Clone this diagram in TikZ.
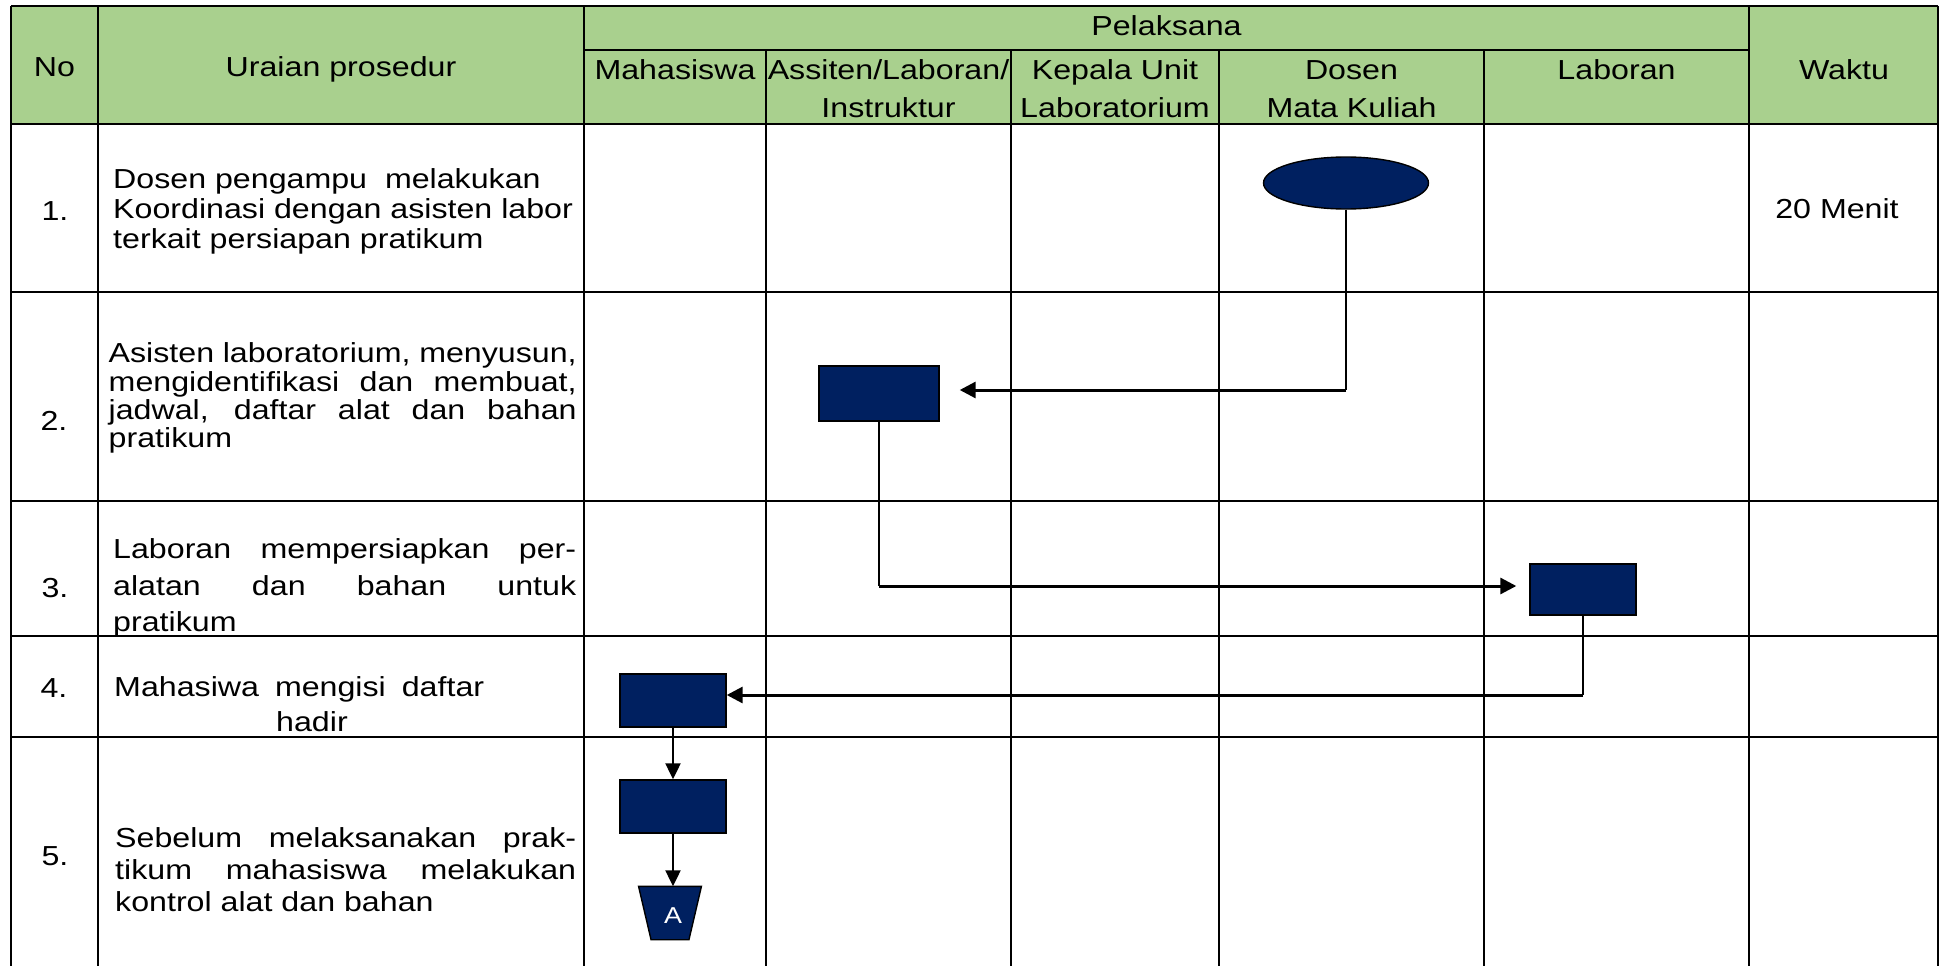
\documentclass[tikz,border=0pt]{standalone}
\usepackage{fontspec}
\setmainfont{Liberation Sans}[FakeStretch=1.17]
\usetikzlibrary{arrows.meta,shapes.geometric,calc}
\definecolor{hdr}{RGB}{169,208,142}
\definecolor{navy}{RGB}{0,32,96}
\begin{document}
\begin{tikzpicture}[x=1pt,y=-1pt,
  grid/.style={line width=2.2pt},
  txt/.style={inner sep=0pt, font=\fontsize{27.5}{30}\selectfont},
  box/.style={draw=black, line width=1.4pt, fill=navy, minimum width=106pt, minimum height=53pt, inner sep=0pt},
  vline/.style={line width=1.4pt},
  harrow/.style={line width=3pt, -{Triangle[length=16pt,width=16pt]}},
  varrow/.style={line width=2.2pt, -{Triangle[length=16pt,width=15pt]}},
]
\useasboundingbox (0,0) rectangle (1941,966);
% header background
\fill[hdr] (11,6) rectangle (1938,124);
% grid
\draw[grid] (11,6) -- (1938,6);
\draw[grid] (584,50) -- (1749,50);
\draw[grid] (11,124) -- (1938,124);
\foreach \yy in {292,501,636,737} {\draw[grid] (11,\yy) -- (1938,\yy);}
\foreach \xx in {11,98,584,1749,1938} {\draw[grid] (\xx,6) -- (\xx,966);}
\foreach \xx in {766,1011,1219,1484} {\draw[grid] (\xx,50) -- (\xx,966);}

% header texts
\node[txt, anchor=base] (hNo) at (54.5,77) {No};
\node[txt, anchor=base] (hUr) at (341,77) {Uraian prosedur};
\node[txt, anchor=base] (hPel) at (1166.5,36) {Pelaksana};
\node[txt, anchor=base] (hMhs) at (675,80) {Mahasiswa};
\node[txt, anchor=base] (hAsa) at (888.5,80) {Assiten/Laboran/};
\node[txt, anchor=base] (hAsb) at (888.5,117) {Instruktur};
\node[txt, anchor=base] (hKpa) at (1115,80) {Kepala Unit};
\node[txt, anchor=base] (hKpb) at (1115,117) {Laboratorium};
\node[txt, anchor=base] (hDsa) at (1351.5,80) {Dosen};
\node[txt, anchor=base] (hDsb) at (1351.5,117) {Mata Kuliah};
\node[txt, anchor=base] (hLab) at (1616.5,80) {Laboran};
\node[txt, anchor=base] (hWkt) at (1844,80) {Waktu};

% numbers
\node[txt, anchor=base] (n1) at (55,220) {1.};
\node[txt, anchor=base] (n2) at (54,430) {2.};
\node[txt, anchor=base] (n3) at (55,597) {3.};
\node[txt, anchor=base] (n4) at (54,697) {4.};
\node[txt, anchor=base] (n5) at (55,865) {5.};

% row 1
\node[txt, anchor=base west] (d1a) at (113,188) {Dosen pengampu\ \ melakukan};
\node[txt, anchor=base west] (d1b) at (113,218.5) {Koordinasi dengan asisten labor};
\node[txt, anchor=base west] (d1c) at (113,248) {terkait persiapan pratikum};
\node[txt, anchor=base] (w1) at (1837,218) {20 Menit};

% row 2
\node[txt, anchor=base west] (d2a) at (108.5,362) {\makebox[468pt][s]{Asisten laboratorium, menyusun,}};
\node[txt, anchor=base west] (d2b) at (108.5,391) {\makebox[468pt][s]{mengidentifikasi dan membuat,}};
\node[txt, anchor=base west] (d2c) at (108.5,419) {\makebox[468pt][s]{jadwal, daftar alat dan bahan}};
\node[txt, anchor=base west] (d2d) at (108.5,447) {pratikum};

% row 3
\node[txt, anchor=base west] (d3a) at (113,558) {\makebox[463pt][s]{Laboran mempersiapkan per-}};
\node[txt, anchor=base west] (d3b) at (113,595) {\makebox[463pt][s]{alatan dan bahan untuk}};
\node[txt, anchor=base west] (d3c) at (113,631) {pratikum};

% row 4
\node[txt, anchor=base west] (d4a) at (114,696) {\makebox[370pt][s]{Mahasiwa mengisi daftar}};
\node[txt, anchor=base west] (d4b) at (276,731.5) {hadir};

% row 5
\node[txt, anchor=base west] (d5a) at (115,847) {\makebox[461pt][s]{Sebelum melaksanakan prak-}};
\node[txt, anchor=base west] (d5b) at (115,879) {\makebox[461pt][s]{tikum mahasiswa melakukan}};
\node[txt, anchor=base west] (d5c) at (115,911) {kontrol alat dan bahan};

% flow shapes
\node[draw=black, line width=1.4pt, fill=navy, ellipse, minimum width=165pt, minimum height=52pt, inner sep=0pt] (ell) at (1346,183) {};
\node[box, minimum width=120pt, minimum height=55pt] (box2) at (879,393.5) {};
\node[box, minimum height=51pt] (box3) at (1583,589.5) {};
\node[box] (box4) at (673,700.5) {};
\node[box] (box5) at (673,806.5) {};
\node[minimum width=62.5pt, minimum height=53pt, inner sep=0pt] (ta) at (670,913) {};
\filldraw[fill=navy, draw=black, line width=1.4pt] (ta.north west) -- (ta.north east) -- ($(ta.south east)+(-12.5,0)$) -- ($(ta.south west)+(12.5,0)$) -- cycle;
\node[inner sep=0pt, text=white, font=\fontsize{23}{26}\selectfont] (taA) at ($(ta.center)+(3,3)$) {A};

% connectors
\coordinate (k1) at ($(box2.east -| ell.south)+(0,-3.5)$);
\draw[vline] (ell.south) -- (k1);
\draw[harrow, shorten >=20pt] (k1) -- (k1 -| box2.east);

\coordinate (k2) at ($(box3.west -| box2.south)+(0,-3.5)$);
\draw[vline] (box2.south) -- (k2);
\draw[harrow, shorten >=13pt] (k2) -- (k2 -| box3.west);

\coordinate (k3) at ($(box4.east -| box3.south)+(0,-5.5)$);
\draw[vline] (box3.south) -- (k3);
\draw[harrow] (k3) -- (k3 -| box4.east);

\draw[varrow] (box4.south) -- (box5.north);
\draw[varrow] (box5.south) -- (box5.south |- ta.north);
\end{tikzpicture}
\end{document}
